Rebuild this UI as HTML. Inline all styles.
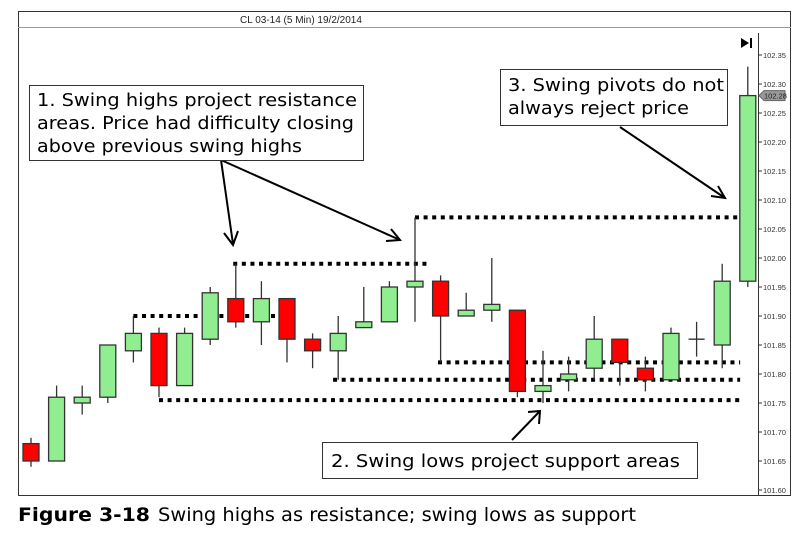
<!DOCTYPE html>
<html><head><meta charset="utf-8"><style>
body{margin:0;background:#fff;width:799px;height:537px;overflow:hidden;font-family:"DejaVu Sans","Liberation Sans",sans-serif}
</style></head><body>
<svg width="799" height="537" style="position:absolute;left:0;top:0">
<rect x="18.5" y="11.5" width="772" height="484" fill="#fff" stroke="#333"/>
<line x1="18" y1="27.5" x2="791" y2="27.5" stroke="#999"/>
<text x="240" y="23" font-family="Liberation Sans,sans-serif" font-size="10" fill="#222">CL 03-14 (5 Min)  19/2/2014</text>
<line x1="758.5" y1="33" x2="758.5" y2="496" stroke="#333"/>
<g id="axis"></g>
<g id="levels"></g>
<g id="candles"></g>
<polygon points="741,38 741,48 749,43" fill="#000"/>
<rect x="750" y="38" width="2" height="10" fill="#000"/>
<g id="tag"></g>
<g stroke="#000" stroke-width="2" fill="none">
<line x1="221" y1="160" x2="233" y2="244"/><polyline points="224,233 233,245 238,231"/>
<line x1="221" y1="160" x2="400" y2="240"/><polyline points="386,241 400,240 391,229"/>
<line x1="620" y1="127" x2="725" y2="198"/><polyline points="711,196 725,198 718,186"/>
<line x1="512" y1="440" x2="540" y2="411"/><polyline points="528,412 540,411 539,424"/>
</g>
<g>
<rect x="29.5" y="85.5" width="334" height="75" fill="#fff" stroke="#333"/>
<text font-size="17.5" fill="#000" lengthAdjust="spacingAndGlyphs"><tspan x="37" y="106" textLength="320" lengthAdjust="spacingAndGlyphs">1. Swing highs project resistance</tspan><tspan x="37" y="129" textLength="317" lengthAdjust="spacingAndGlyphs">areas. Price had difficulty closing</tspan><tspan x="37" y="152" textLength="265" lengthAdjust="spacingAndGlyphs">above previous swing highs</tspan></text>
</g>
<g>
<rect x="500.5" y="69.5" width="227" height="56" fill="#fff" stroke="#333"/>
<text font-size="17.5" fill="#000"><tspan x="508" y="91" textLength="216" lengthAdjust="spacingAndGlyphs">3. Swing pivots do not</tspan><tspan x="508" y="114" textLength="181" lengthAdjust="spacingAndGlyphs">always reject price</tspan></text>
</g>
<g>
<rect x="322.5" y="442.5" width="375" height="36" fill="#fff" stroke="#333"/>
<text x="331" y="467" font-size="17.5" fill="#000" textLength="349" lengthAdjust="spacingAndGlyphs">2. Swing lows project support areas</text>
</g>
<g>
<text x="18" y="521" font-size="19" font-weight="bold" fill="#000" textLength="132" lengthAdjust="spacingAndGlyphs">Figure 3-18</text>
<text x="158" y="521" font-size="19" fill="#000" textLength="478" lengthAdjust="spacingAndGlyphs">Swing highs as resistance; swing lows as support</text>
</g>
</svg>
<script>
const opens=[101.68,101.65,101.75,101.76,101.84,101.87,101.78,101.86,101.93,101.89,101.93,101.86,101.84,101.88,101.89,101.95,101.96,101.90,101.91,101.91,101.77,101.79,101.81,101.86,101.81,101.79,101.86,101.85,101.96];
const highs=[101.69,101.78,101.78,101.85,101.90,101.88,101.88,101.95,101.99,101.96,101.93,101.87,101.90,101.95,101.96,102.07,101.97,101.94,102.00,101.91,101.84,101.83,101.90,101.86,101.83,101.88,101.89,101.99,102.33];
const lows=[101.64,101.65,101.73,101.75,101.82,101.76,101.78,101.85,101.88,101.85,101.82,101.81,101.79,101.88,101.89,101.89,101.82,101.90,101.89,101.76,101.75,101.77,101.79,101.78,101.77,101.79,101.83,101.81,101.95];
const closes=[101.65,101.76,101.76,101.85,101.87,101.78,101.87,101.94,101.89,101.93,101.86,101.84,101.87,101.89,101.95,101.96,101.90,101.91,101.92,101.77,101.78,101.80,101.86,101.82,101.79,101.87,101.86,101.96,102.28];
const tickLabels=["102.35","102.30","102.25","102.20","102.15","102.10","102.05","102.00","101.95","101.90","101.85","101.80","101.75","101.70","101.65","101.60"];
const levelPrices=[101.99,101.90,101.755,101.79,101.82,102.07];
const levelStart=[7.9,4,5,11.8,15.9,15];
const levelEnd=[15.5,10.3,27.7,27.7,27.7,28.4];
const lastPrice=102.28;
const NS="http://www.w3.org/2000/svg";
const y=v=>55+(102.35-v)*580;
const x=i=>31+i*25.6;
function mk(t,a,p){const e=document.createElementNS(NS,t);for(const k in a)e.setAttribute(k,a[k]);p.appendChild(e);return e;}
const ax=document.getElementById('axis');
tickLabels.forEach(t=>{const yy=y(parseFloat(t));
const l=mk('line',{x1:758,x2:762,y1:yy,y2:yy,stroke:'#333'},ax);


const tx=mk('text',{x:763,y:yy+3,'font-size':7.5,'font-family':'Liberation Sans,sans-serif',fill:'#333'},ax);


tx.textContent=t;});
const lv=document.getElementById('levels');
levelPrices.forEach((p,k)=>{const yy=y(p);const x0=x(levelStart[k]);
const l=mk('line',{x1:x0,x2:x(levelEnd[k]),y1:yy,y2:yy,stroke:'#000','stroke-width':4,'stroke-dasharray':'4 4.6'},lv);

});
const cg=document.getElementById('candles');
opens.forEach((o,i)=>{const c=closes[i];const cx=x(i);const up=c>=o;
const w=mk('line',{x1:cx,x2:cx,y1:y(highs[i]),y2:y(lows[i]),stroke:'#333','stroke-width':1.3},cg);


const top=y(Math.max(o,c)),bot=y(Math.min(o,c));
if(Math.abs(o-c)<0.001){const d=mk('line',{x1:cx-8,x2:cx+8,y1:top,y2:top,stroke:'#333','stroke-width':1.3},cg);

return;}
const r=mk('rect',{x:cx-8,y:top,width:16,height:bot-top,fill:up?'#90ee90':'#ff0000',stroke:'#333','stroke-width':1.3},cg);

});
const tg=document.getElementById('tag');const ty=y(lastPrice);
const pg=mk('polygon',{points:`759,${ty} 764,${ty-5} 785,${ty-5} 785,${ty+5} 764,${ty+5}`,fill:'#999',stroke:'#666'},tg);


const tt=mk('text',{x:764,y:ty+3,'font-size':7.5,'font-family':'Liberation Sans,sans-serif',fill:'#222'},tg);


tt.textContent=lastPrice.toFixed(2);
</script>
</body></html>
